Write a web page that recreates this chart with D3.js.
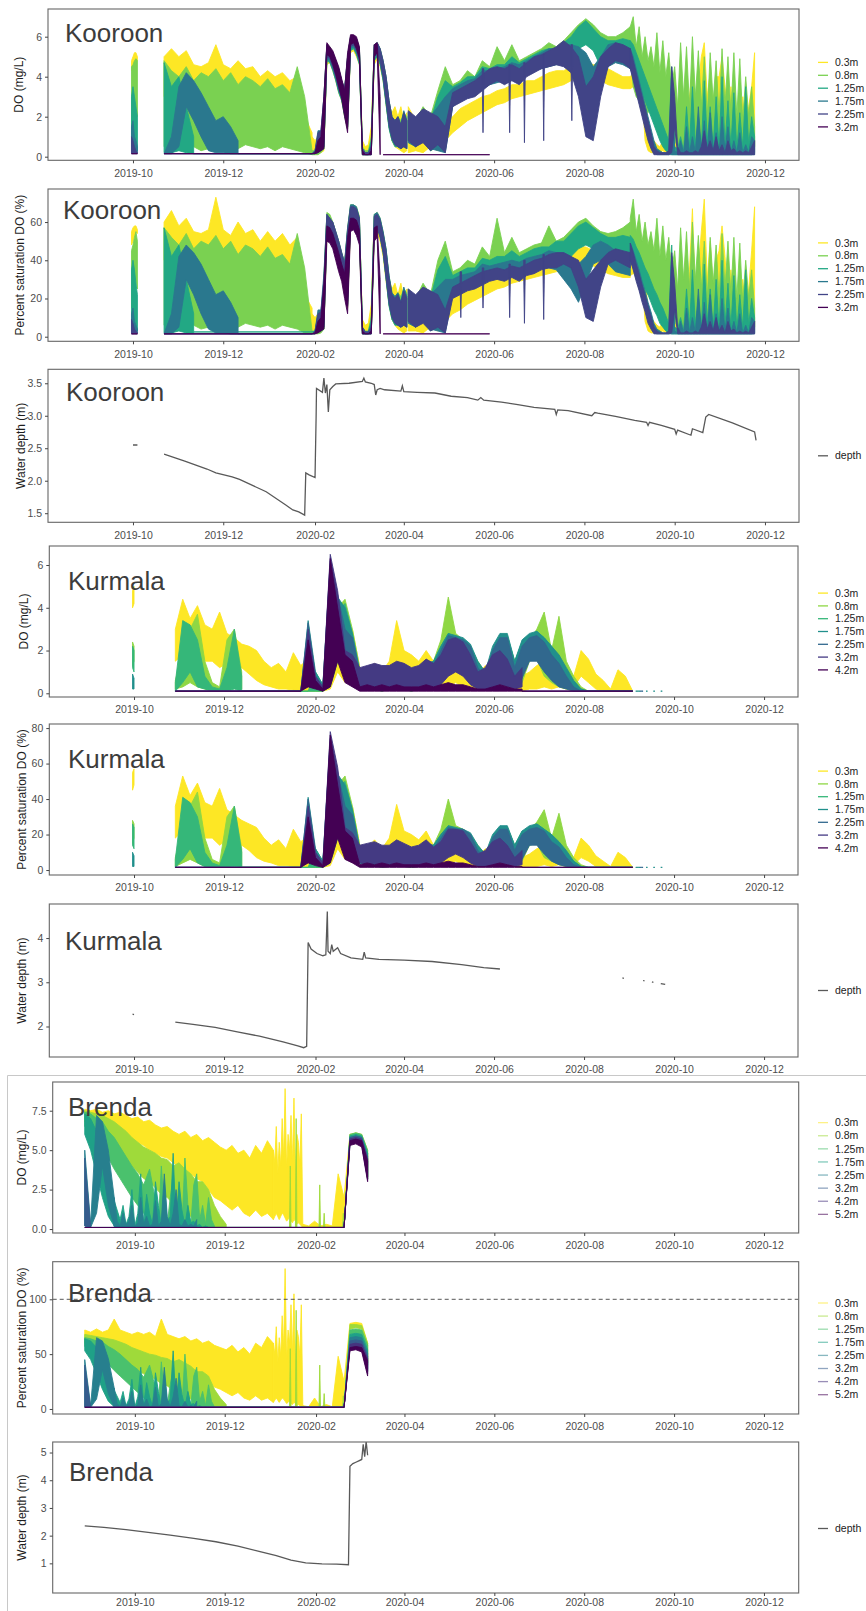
<!DOCTYPE html>
<html>
<head>
<meta charset="utf-8">
<style>
body { margin: 0; background: #fff; }
svg { display: block; font-family: "Liberation Sans", Arial, sans-serif; }
</style>
</head>
<body>
<svg width="866" height="1611"></svg>
<script src="https://d3js.org/d3.v7.min.js"></script>
<script>

// ---- data: each series is a list of segments [start date, step in days, daily low values, daily high values]
var xTickDates = ["2019-10-01","2019-12-01","2020-02-01","2020-04-01","2020-06-01","2020-08-01","2020-10-01","2020-12-01"];

var depths6 = ["0.3m","0.8m","1.25m","1.75m","2.25m","3.2m"];
var depths7 = ["0.3m","0.8m","1.25m","1.75m","2.25m","3.2m","4.2m"];
var depths8 = ["0.3m","0.8m","1.25m","1.75m","2.25m","3.2m","4.2m","5.2m"];

var viridis6 = ["#FDE725","#7AD151","#22A884","#2A788E","#414487","#440154"];
var viridis7 = ["#FDE725","#8FD744","#35B779","#21908C","#31688E","#443A83","#440154"];
var viridis8 = ["#FDE725","#9FDA3A","#4AC16D","#1FA187","#277F8E","#365C8D","#46337E","#440154"];

var yTicksKooroonDO = [0, 2, 4, 6];
var yTicksKooroonSat = [0, 20, 40, 60];
var yTicksKooroonDepth = [1.5, 2.0, 2.5, 3.0, 3.5];
var yTicksKurmalaDO = [0, 2, 4, 6];
var yTicksKurmalaSat = [0, 20, 40, 60, 80];
var yTicksKurmalaDepth = [2, 3, 4];
var yTicksBrendaDO = [0.0, 2.5, 5.0, 7.5];
var yTicksBrendaSat = [0, 50, 100];
var yTicksBrendaDepth = [1, 2, 3, 4, 5];

var kooroonDO = [
  [["2019-09-30",1,[4.3,4.5,4.6,4.8,4.8],[4.8,5.0,5.2,5.2,5.0]],
   ["2019-10-22",5,[3.0,3.2,3.0,3.3,2.8,3.0,3.2,3.5,3.0,3.2,2.8,3.0,2.6,2.8,2.5,2.8,2.6,2.2,1.8,0.3,0.2],
                   [5.0,5.4,5.0,5.3,4.6,4.5,4.7,5.6,4.6,4.4,4.8,4.4,4.5,4.0,4.3,4.0,4.2,3.8,4.0,2.0,1.2]],
   ["2020-01-30",2,[0.2,0.2,0.3,0.2,0.3,4.6,4.7,4.3,3.8,3.2,2.8,2.0,1.4,5.2,5.3,5.0,4.6,0.2,0.2,0.2,0.3,4.6,4.9,4.5,3.8,2.6,1.5,0.8,0.5,0.4,0.3,0.2,0.3],
                   [1.0,0.8,1.0,0.8,2.5,5.3,5.3,5.0,4.6,4.2,3.6,3.2,4.6,5.8,5.8,5.6,5.2,0.8,0.5,0.6,1.5,5.4,5.5,5.2,4.6,3.8,2.6,2.2,2.5,2.0,2.5,1.8,2.2]],
   ["2020-04-04",5,[0.2,0.3,0.2,0.5,0.3,0.8,1.2,1.5,1.8,2.0,2.2,2.4,2.6,2.7,2.9,3.0,3.1,3.2,3.3,3.4,3.5,3.6,3.8,4.0,4.0,4.0,3.8,3.6,3.5,3.4,3.4],
                   [2.5,1.8,2.2,1.5,1.2,1.8,2.0,2.4,2.6,2.8,3.0,3.1,3.3,3.4,3.6,3.6,3.8,3.8,4.0,4.2,4.3,4.3,4.5,4.8,4.8,4.6,4.6,4.4,4.2,4.0,4.0]],
   ["2020-09-01",2,[3.4,3.5,3.4,3.3,3.2,0.8,0.3,0.2,0.2,0.2,0.2,0.3,0.2,0.2,0.3,0.2,0.3,0.2,0.2,0.3,0.5,0.8,0.5,0.3,0.5,0.3,0.5,0.4,0.3,0.2,0.3,0.5,0.3,0.2,0.3,0.2,0.3,0.2,0.2,0.3,0.3,0.5,0.5],
                   [4.0,4.2,4.0,4.5,3.9,3.5,1.5,1.0,0.8,0.6,0.5,0.8,0.5,0.4,1.0,0.6,1.5,2.0,1.0,2.5,3.0,4.5,2.0,3.5,5.0,5.7,3.0,4.2,2.5,4.0,4.0,5.0,3.5,2.0,3.5,1.5,2.0,1.5,3.0,1.2,2.5,3.5,5.2]]],
  [["2019-09-30",1,[1.0,1.5,2.0,2.5,2.0],[4.5,4.6,4.8,4.9,4.8]],
   ["2019-10-22",5,[0.5,0.5,0.3,0.8,0.5,0.3,0.4,0.5,0.3,0.5,0.4,0.6,0.5,0.4,0.5,0.3,0.5,0.4,0.3,0.2,0.1],
                   [4.8,4.3,4.0,4.5,3.8,4.2,4.0,4.4,3.8,4.2,3.6,4.0,3.8,3.5,3.9,3.4,3.6,3.2,4.5,3.0,0.3]],
   ["2020-01-30",2,[0.1,0.1,0.1,0.2,0.4,4.9,4.8,4.4,3.9,3.3,2.9,2.1,1.5,5.4,5.5,5.2,4.7,0.1,0.1,0.1,0.2,4.8,5.1,4.7,3.9,2.7,1.5,0.8,0.6,0.6,0.5,0.8,0.5],
                   [0.3,0.3,0.8,0.8,2.8,5.6,5.5,5.2,4.8,4.4,3.8,3.4,5.0,6.0,6.0,5.9,5.4,0.5,0.3,0.3,1.0,5.6,5.7,5.4,4.8,4.0,2.8,2.0,1.8,2.0,1.8,2.2,2.0]],
   ["2020-04-04",5,[0.8,0.5,1.0,0.3,0.5,0.3,2.8,3.0,3.2,3.5,3.6,3.8,4.0,4.0,4.2,4.0,4.3,4.5,4.6,4.8,4.8,5.0,5.2,5.6,5.8,5.5,5.0,4.8,5.0,5.2,5.0],
                   [2.2,1.8,2.5,2.0,3.3,4.5,3.6,3.8,4.3,4.0,4.8,4.5,5.5,4.8,5.6,4.8,5.0,5.2,5.4,5.7,5.5,5.8,6.2,6.6,6.9,6.6,6.2,6.0,6.0,6.2,6.5]],
   ["2020-09-01",2,[5.0,3.5,3.0,2.8,2.5,2.4,2.2,2.5,2.0,1.8,1.5,1.2,1.0,0.8,0.6,0.8,0.5,0.7,0.4,0.6,0.5,0.8,0.6,1.0,0.5,0.8,0.4,0.7,0.5,0.6,0.4,0.8,0.5,0.6,0.3,0.5,0.4,0.6,0.3,0.5,0.3,0.4,0.5],
                   [6.5,7.0,5.5,6.5,5.0,6.0,4.8,5.5,4.5,6.2,4.2,5.8,4.0,5.2,3.5,4.5,2.5,5.7,3.0,5.5,2.5,6.0,3.0,5.3,2.5,5.0,2.0,5.2,2.8,4.8,2.0,5.4,2.5,5.0,2.2,5.2,2.0,4.9,1.8,4.0,2.0,3.5,1.5]]],
  [["2019-09-30",1,[0.3,0.5,0.8,0.5,0.3],[3.0,3.5,3.0,2.5,2.0]],
   ["2019-10-22",5,[0.2,0.2,0.3,0.2,0.15],[4.7,3.5,4.0,2.5,1.0]],
   ["2019-11-11",80,[0.15,0.15],[0.15,0.15]],
   ["2020-01-30",2,[0.15,0.15,0.2,0.3,0.4,4.8,4.7,4.3,3.8,3.2,2.8,2.0,1.4,5.3,5.4,5.1,4.6,0.1,0.1,0.1,0.1,4.8,5.0,4.6,3.8,2.6,1.4,0.8,0.5,0.5,0.4,0.6,0.4],
                   [0.15,0.3,1.0,1.2,2.6,5.5,5.4,5.1,4.7,4.3,3.7,3.3,4.8,5.9,5.9,5.8,5.3,0.4,0.2,0.2,0.8,5.5,5.6,5.3,4.7,3.9,2.7,1.9,1.7,1.8,1.6,2.2,1.8]],
   ["2020-04-04",5,[0.8,0.5,0.8,0.3,0.5,0.5,2.6,2.9,3.0,3.3,3.4,3.6,3.8,3.9,4.0,3.9,4.2,4.4,4.5,4.6,4.7,4.8,5.0,5.4,5.6,5.3,4.5,4.6,4.8,4.8,4.8],
                   [2.0,1.6,2.2,1.8,3.0,3.8,3.5,3.7,4.0,4.0,4.5,4.4,4.6,4.6,5.0,4.7,4.9,5.1,5.3,5.4,5.4,5.7,6.0,6.5,6.8,6.4,6.0,5.8,5.8,5.9,5.8]],
   ["2020-09-01",2,[4.8,4.5,4.0,3.6,3.2,2.8,2.4,2.0,1.6,1.2,0.8,0.5,0.3,0.2,0.1,0.1,0.1,0.1,0.1,0.1,0.1,0.1,0.1,0.1,0.1,0.1,0.1,0.1,0.1,0.1,0.1,0.1,0.1,0.1,0.1,0.1,0.1,0.1,0.1,0.1,0.1,0.1,0.2],
                   [5.8,5.6,5.2,4.8,4.4,4.0,3.6,3.2,2.8,2.4,2.0,1.6,1.2,0.8,4.5,0.5,0.4,1.0,0.3,2.5,0.5,3.5,0.6,2.0,0.4,3.8,0.8,2.5,0.5,3.0,0.4,4.0,0.6,2.8,0.5,3.2,0.4,2.2,0.5,3.5,0.6,2.0,1.0]]],
  [["2019-09-30",1,[0.2,0.2,0.3,0.3,0.2],[1.5,1.8,1.0,0.8,0.5]],
   ["2019-10-22",5,[0.15,0.15,0.5,2.5,1.8,1.0,0.3,0.2,0.2,0.15,0.15],[0.15,1.0,3.5,4.2,3.8,3.2,2.5,1.8,2.0,1.5,0.8]],
   ["2019-12-11",50,[0.15,0.15],[0.15,0.15]],
   ["2020-01-30",2,[0.15,0.15,0.3,0.3,0.5,4.9,4.8,4.4,3.9,3.3,2.9,2.1,1.5,5.4,5.5,5.2,4.7,0.1,0.1,0.1,0.1,4.9,5.1,4.7,3.9,2.7,1.5,0.9,0.6,0.5,0.4,0.5,0.4],
                   [0.15,0.3,1.3,1.3,3.0,5.6,5.4,5.2,4.8,4.4,3.8,3.4,5.0,6.0,6.0,5.9,5.4,0.4,0.2,0.2,0.6,5.6,5.7,5.4,4.8,4.0,2.8,2.0,1.8,2.0,1.6,2.3,1.8]],
   ["2020-04-04",5,[0.7,0.5,0.8,0.4,0.3,0.2,2.5,2.8,3.0,3.2,3.4,3.6,3.7,3.8,3.9,3.8,4.1,4.3,4.4,4.5,4.6,4.6,4.5,4.0,3.0,2.0,3.5,4.5,4.7,4.6,4.4],
                   [2.2,1.8,2.3,2.0,2.5,3.0,3.4,3.6,3.8,3.9,4.3,4.3,4.4,4.5,4.7,4.6,4.8,5.0,5.2,5.4,5.4,5.6,5.6,5.5,5.2,4.5,5.0,5.6,5.7,5.6,5.4]],
   ["2020-09-01",2,[4.4,4.0,3.4,2.8,2.2,1.6,1.0,0.5,0.2,0.1,0.1,0.1,0.1,0.1,0.1,0.1,0.1,0.1,0.1,0.1,0.1,0.1,0.1,0.1,0.1,0.1,0.1,0.1,0.1,0.1,0.1,0.1,0.1,0.1,0.1,0.1,0.1,0.1,0.1,0.1,0.1,0.1,0.1],
                   [5.4,5.0,4.4,3.8,3.2,2.6,2.0,1.4,0.8,0.4,0.3,0.2,0.2,0.2,4.3,0.3,0.2,0.8,0.2,1.5,0.2,1.0,0.2,2.5,0.3,1.8,0.2,2.2,0.3,1.2,0.2,2.0,0.3,1.5,0.2,0.8,0.2,1.2,0.2,0.6,0.2,1.0,0.8]]],
  [["2019-09-30",1,[0.15,0.15,0.15,0.15,0.15],[1.0,0.8,0.5,0.3,0.2]],
   ["2019-10-22",100,[0.15,0.15],[0.15,0.15]],
   ["2020-01-30",2,[0.15,0.15,0.3,0.4,0.5,5.0,4.9,4.5,4.0,3.4,3.0,2.2,1.5,5.5,5.6,5.3,4.8,0.1,0.1,0.1,0.1,5.0,5.2,4.8,4.0,2.8,1.6,0.9,0.6,0.5,0.4,0.5,0.4],
                   [0.15,0.3,1.2,1.3,3.0,5.6,5.4,5.2,4.8,4.4,3.8,3.4,5.0,6.0,6.0,5.9,5.4,0.4,0.2,0.2,0.5,5.6,5.7,5.4,4.8,4.0,2.8,2.0,1.8,2.0,1.6,2.2,1.8]],
   ["2020-04-04",5,[0.8,0.5,0.7,0.3,0.6,0.2,2.5,2.7,2.9,3.0,3.3,3.6,3.8,3.6,3.8,3.6,4.0,4.2,4.4,4.5,4.6,4.5,4.2,3.0,1.0,0.8,3.0,4.5,4.8,4.7,4.4],
                   [2.3,2.0,2.4,2.2,2.0,1.5,3.2,3.4,3.6,3.8,4.1,4.4,4.5,4.4,4.6,4.4,4.7,5.0,5.1,5.3,5.5,5.8,5.5,5.0,3.5,4.0,5.0,5.4,5.7,5.6,5.4]],
   ["2020-05-24",0.5,[3.6,1.2,3.6],[4.4,4.4,4.4]],
   ["2020-06-11",0.5,[3.8,1.2,3.8],[4.6,4.6,4.6]],
   ["2020-06-21",0.5,[4.0,0.7,4.0],[4.7,4.7,4.7]],
   ["2020-07-04",0.5,[4.4,0.8,4.4],[5.1,5.1,5.1]],
   ["2020-07-23",0.5,[4.5,1.8,4.5],[5.6,5.6,5.6]],
   ["2020-09-01",2,[4.4,3.8,3.2,2.6,2.0,1.4,0.8,0.4,0.1,0.1,0.1,0.1,0.1,0.1,0.2,1.5,0.1,0.1,0.1,0.1,0.1,0.1,0.1,0.1,0.1,0.1,0.1,0.1,0.1,0.1,0.1,0.1,0.1,0.1,0.1,0.1,0.1,0.1,0.1,0.1,0.1,0.1,0.1],
                   [5.4,4.8,4.2,3.6,3.0,2.4,1.8,1.2,0.5,0.3,0.2,0.2,0.2,0.3,4.5,3.0,0.5,0.2,0.2,0.3,0.2,0.2,0.3,0.2,0.5,1.3,0.4,0.8,0.3,1.0,0.3,0.6,0.2,0.8,0.3,0.4,0.2,0.3,0.2,0.3,0.2,0.5,0.8]]],
  [["2019-09-30",4,[0.15,0.15],[0.15,0.15]],
   ["2019-10-22",100,[0.15,0.15],[0.15,0.15]],
   ["2020-01-30",2,[0.15,0.15,0.2,0.3,0.4,5.1,5.0,4.6,4.1,3.5,2.9,2.0,1.2,5.6,5.7,5.4,4.9,0.1,0.1,0.1,0.1,5.0,5.2,0.1],
                   [0.15,0.2,0.8,1.0,3.0,5.7,5.5,5.3,4.9,4.5,3.9,3.3,5.2,6.1,6.1,6.0,5.5,0.3,0.1,0.1,0.3,5.6,5.7,3.0]],
   ["2020-03-18",72,[0.1,0.1],[0.1,0.1]]]
];

var kooroonSat = [
  [["2019-09-30",1,[48,50,52,55,54],[55,57,58,58,56]],
   ["2019-10-22",5,[40,42,40,44,38,40,42,46,40,42,37,40,35,37,34,37,35,30,25,3,2],
                   [60,66,58,62,55,54,56,73,56,53,60,54,56,50,55,50,54,48,52,22,15]],
   ["2020-01-30",2,[3,3,4,3,4,52,52,48,42,36,31,22,15,58,59,56,51,2,2,2,3,52,54,50,42,29,17,9,6,4,3,2,3],
                   [12,10,12,10,28,62,61,58,53,48,42,36,52,67,67,65,60,9,6,7,17,62,63,60,53,43,30,25,28,22,28,20,25]],
   ["2020-04-04",5,[3,3,2,5,3,8,12,14,17,19,21,23,25,26,28,29,30,31,32,33,34,35,36,38,38,37,35,33,32,31,31],
                   [25,18,22,15,12,17,20,23,25,27,29,30,32,33,35,35,37,37,39,41,42,42,44,47,47,45,45,43,41,39,39]],
   ["2020-09-01",2,[32,33,32,31,30,8,3,2,2,2,2,3,2,2,3,2,3,2,2,3,5,8,5,3,5,3,5,4,3,2,3,5,3,2,3,2,3,2,2,3,3,5,5],
                   [38,40,38,42,37,33,14,10,8,6,5,8,5,4,10,6,15,20,10,25,35,67,20,35,55,72,30,50,25,40,45,58,42,20,35,15,20,15,30,12,25,45,68]]],
  [["2019-09-30",1,[15,20,25,30,25],[45,48,52,55,50]],
   ["2019-10-22",5,[6,6,4,9,6,4,5,6,4,6,5,7,6,5,6,4,6,5,4,2,1.5],
                   [57,52,48,54,46,50,48,53,46,50,43,48,46,42,47,41,43,38,54,36,3]],
   ["2020-01-30",2,[1.5,1.5,1.5,2,4,56,55,51,45,38,33,24,17,61,62,59,54,1.5,1.5,1.5,2,55,58,53,45,31,17,9,7,7,6,9,6],
                   [3,3,9,9,30,65,64,60,55,50,44,39,57,69,69,68,63,5,3,3,11,64,65,62,55,46,32,23,21,23,21,25,23]],
   ["2020-04-04",5,[8,5,10,4,6,4,26,28,30,32,33,34,36,36,37,36,38,39,40,41,41,43,44,48,50,48,45,44,45,46,46],
                   [25,20,28,22,40,50,34,36,40,38,47,42,62,44,52,44,46,48,49,58,50,52,56,60,62,58,55,54,55,57,60]],
   ["2020-09-01",2,[46,35,30,28,25,24,22,25,20,18,15,12,10,8,6,8,5,7,4,6,5,8,6,10,5,8,4,7,5,6,4,8,5,6,3,5,4,6,3,5,3,4,5],
                   [62,72,55,64,50,60,48,55,45,62,42,58,40,52,35,45,25,57,30,55,25,60,30,53,25,50,20,52,28,48,20,54,25,50,22,52,20,49,18,40,20,35,15]]],
  [["2019-09-30",1,[3,5,8,5,3],[35,40,35,28,22]],
   ["2019-10-22",5,[2,2,3,2,2],[57,42,48,30,12]],
   ["2019-11-11",80,[2.5,2.5],[2.5,2.5]],
   ["2020-01-30",2,[2.5,2.5,2.5,3,4,55,54,50,44,37,32,23,16,60,61,58,53,1.5,1.5,1.5,1.5,55,57,52,44,30,16,9,6,6,5,7,5],
                   [2.5,3,11,13,28,63,62,59,54,49,43,38,55,68,68,67,61,5,2.5,2.5,9,63,64,61,54,45,31,22,20,21,18,25,21]],
   ["2020-04-04",5,[8,5,8,3,5,4,24,26,27,29,30,31,33,33,34,34,36,37,38,39,39,40,42,46,48,46,40,40,42,42,42],
                   [22,18,25,20,35,42,32,34,36,36,41,40,42,42,45,42,44,46,47,47,50,50,54,58,60,57,54,52,52,53,52]],
   ["2020-09-01",2,[44,41,36,33,29,25,22,18,14,11,7,5,3,2,1.5,1.5,1.5,1.5,1.5,1.5,1.5,1.5,1.5,1.5,1.5,1.5,1.5,1.5,1.5,1.5,1.5,1.5,1.5,1.5,1.5,1.5,1.5,1.5,1.5,1.5,1.5,1.5,2],
                   [53,51,47,44,40,36,33,29,25,22,18,15,11,7,48,5,4,10,3,25,5,35,6,20,4,38,8,25,5,30,4,40,6,28,5,32,4,22,5,35,6,20,10]]],
  [["2019-09-30",1,[2,2,3,3,2],[12,15,8,6,4]],
   ["2019-10-22",5,[1.5,1.5,5,30,22,12,4,2,2,1.5,1.5],[1.5,12,42,48,44,38,30,22,24,18,10]],
   ["2019-12-11",50,[1.5,1.5],[1.5,1.5]],
   ["2020-01-30",2,[1.5,1.5,3,3,5,56,55,51,45,38,33,24,17,61,62,59,54,1.5,1.5,1.5,1.5,56,58,53,45,31,17,10,7,6,5,6,5],
                   [1.5,3,14,14,33,64,62,60,55,50,44,39,57,69,69,68,62,5,2.5,2.5,7,64,65,62,55,46,32,23,21,23,18,26,21]],
   ["2020-04-04",5,[7,5,8,4,3,2,22,25,26,28,29,30,32,32,33,33,34,35,36,36,35,30,25,18,28,38,40,38,34,33,32],
                   [25,20,25,22,26,30,30,32,33,34,38,37,38,39,40,39,41,42,43,45,44,44,42,38,42,48,50,48,45,44,44]],
   ["2020-09-01",2,[40,36,31,25,20,15,9,5,2,1.5,1.5,1.5,1.5,1.5,1.5,1.5,1.5,1.5,1.5,1.5,1.5,1.5,1.5,1.5,1.5,1.5,1.5,1.5,1.5,1.5,1.5,1.5,1.5,1.5,1.5,1.5,1.5,1.5,1.5,1.5,1.5,1.5,1.5],
                   [49,45,40,35,29,24,18,13,7,4,3,2,2,2,42,3,2,8,2,15,2,10,2,25,3,18,2,22,3,12,2,20,3,15,2,8,2,12,2,6,2,10,8]]],
  [["2019-09-30",1,[1.5,1.5,1.5,1.5,1.5],[9,7,4,3,2]],
   ["2019-10-22",100,[1.5,1.5],[1.5,1.5]],
   ["2020-01-30",2,[1.5,1.5,3,4,5,55,54,50,44,38,33,24,16,60,61,58,53,1.5,1.5,1.5,1.5,55,57,52,44,31,18,10,7,6,5,6,5],
                   [1.5,3,12,13,30,64,62,60,55,50,44,38,56,68,68,67,62,5,2.5,2.5,5,63,64,61,54,45,31,22,20,22,18,24,20]],
   ["2020-04-04",5,[8,5,7,3,5,2,20,22,24,25,27,29,30,29,31,29,32,33,35,36,36,38,36,26,10,8,26,38,40,38,36],
                   [25,22,26,24,22,14,26,28,30,32,34,35,36,35,37,36,38,40,41,43,44,44,42,40,30,35,40,44,46,45,44]],
   ["2020-05-09",0.5,[28,10,28],[34,34,34]],
   ["2020-05-24",0.5,[29,15,29],[36,36,36]],
   ["2020-06-11",0.5,[31,10,31],[38,38,38]],
   ["2020-06-21",0.5,[32,7,32],[40,40,40]],
   ["2020-07-04",0.5,[35,9,35],[43,43,43]],
   ["2020-09-01",2,[40,35,29,24,18,13,7,4,1.5,1.5,1.5,1.5,1.5,1.5,2,14,1.5,1.5,1.5,1.5,1.5,1.5,1.5,1.5,1.5,1.5,1.5,1.5,1.5,1.5,1.5,1.5,1.5,1.5,1.5,1.5,1.5,1.5,1.5,1.5,1.5,1.5,1.5],
                   [49,44,38,33,27,22,16,11,5,3,2,2,2,3,44,28,5,2,2,3,2,2,3,2,5,12,4,8,3,10,3,6,2,8,3,4,2,3,2,3,2,5,8]]],
  [["2019-09-30",4,[1.5,1.5],[1.5,1.5]],
   ["2019-10-22",100,[1.5,1.5],[1.5,1.5]],
   ["2020-01-30",2,[1.5,1.5,2,3,4,50,49,46,40,34,29,20,12,55,56,53,48,1.5,1.5,1.5,1.5,50,52,1.5],
                   [1.5,2,8,10,28,58,57,54,49,44,38,33,52,62,62,61,56,3,1.5,1.5,3,57,58,30]],
   ["2020-03-18",72,[1.5,1.5],[1.5,1.5]]]
];

var kooroonDepth = [
  ["2019-10-01",2.55],["2019-10-04",2.55],["2019-10-04",null],
  ["2019-10-22",2.41],["2019-11-05",2.30],["2019-11-20",2.18],["2019-11-26",2.12],["2019-12-07",2.06],
  ["2019-12-12",2.02],["2019-12-30",1.83],["2020-01-12",1.63],["2020-01-17",1.55],["2020-01-21",1.52],
  ["2020-01-25",1.47],["2020-01-25T18",2.12],["2020-01-28",2.09],["2020-02-01",2.05],["2020-02-01T18",3.00],
  ["2020-02-02",3.42],["2020-02-06",3.36],["2020-02-07",3.58],["2020-02-08",3.35],["2020-02-09",3.48],
  ["2020-02-10",3.06],["2020-02-11",3.40],["2020-02-13",3.45],["2020-02-15",3.49],["2020-02-24",3.50],
  ["2020-03-04",3.53],["2020-03-05",3.58],["2020-03-06",3.52],["2020-03-10",3.50],["2020-03-12",3.48],
  ["2020-03-13",3.32],["2020-03-14",3.40],["2020-03-16",3.42],["2020-03-19",3.40],["2020-03-30",3.38],
  ["2020-03-31",3.46],["2020-04-01",3.37],["2020-04-10",3.36],["2020-04-22",3.35],["2020-05-03",3.30],
  ["2020-05-14",3.28],["2020-05-21",3.24],["2020-05-23",3.28],["2020-05-25",3.24],["2020-06-06",3.21],
  ["2020-06-17",3.17],["2020-06-28",3.13],["2020-07-12",3.10],["2020-07-13",3.02],["2020-07-14",3.09],
  ["2020-07-21",3.08],["2020-08-06",3.00],["2020-08-08",3.05],["2020-08-10",3.04],["2020-08-22",2.99],
  ["2020-09-04",2.93],["2020-09-12",2.90],["2020-09-13",2.85],["2020-09-14",2.90],["2020-09-22",2.85],
  ["2020-10-01",2.79],["2020-10-02",2.72],["2020-10-03",2.78],["2020-10-12",2.70],["2020-10-13",2.80],
  ["2020-10-20",2.74],["2020-10-22",2.98],["2020-10-24",3.02],["2020-11-09",2.89],["2020-11-24",2.75],
  ["2020-11-25",2.62]
];

var kurmalaDO = [
  [["2019-09-30",1,[4.0,4.2],[4.8,5.0]],
   ["2019-10-29",5,
    [1.5,1.8,1.5,1.8,1.5,1.5,1.2,1.4,1.0,1.2,0.9,0.6,0.4,0.3,0.2,0.2,0.15,0.15,0.1,0.1,0.1,0.2,1.0,0.5,0.8,0.3,0.2,0.3,0.2,0.3,0.5,0.3,0.2,0.2,0.2,0.3,0.2,0.3,0.5,0.3,0.2,0.2,0.2,0.2,0.3,0.2,0.2,0.1,0.2,0.2,0.3,0.2,0.3,0.2,0.3,0.8,0.5,0.2,0.1,0.1,0.1,0.1,0.1],
    [3.0,4.4,3.5,4.1,3.2,3.0,3.8,2.8,2.6,2.3,2.2,2.0,1.5,1.2,1.4,1.0,1.9,1.3,1.6,0.5,0.3,4.8,3.5,2.5,3.0,1.2,1.0,1.4,1.0,1.5,3.4,2.0,1.8,1.5,2.0,1.5,1.2,1.0,1.8,1.4,1.2,0.8,1.3,1.0,1.5,1.2,1.6,0.8,1.0,1.3,1.5,1.2,1.6,1.0,0.8,2.0,1.6,0.9,0.6,0.2,1.1,0.8,0.1]]],
  [["2019-09-30",1,[1.3,1.5],[2.4,2.2]],
   ["2019-10-29",5,[0.2,0.3,0.5,0.3,0.2,0.1,0.1,0.2,0.3,0.2],[0.6,2.0,3.0,3.7,1.5,0.5,0.3,2.5,3.0,1.0]],
   ["2019-12-13",45,[0.1,0.1],[0.1,0.1]],
   ["2020-01-27",5,
    [0.1,0.1,0.1,0.5,1.5,1.0,0.8,0.3,0.2,0.2,0.1,0.2,0.2,0.2,0.1,0.2,0.2,0.3,0.5,1.0,1.2,1.0,0.5,0.3,0.2,0.5,1.2,1.0,0.3,0.5,1.5,1.6,0.8,0.5,0.3,0.2,0.1,0.1,0.1,0.1,0.1,0.1,0.1,0.1,0.1],
    [0.1,0.6,0.3,5.0,4.0,4.4,3.0,1.2,0.8,1.0,0.6,0.9,1.0,1.0,0.8,1.0,1.2,1.5,2.5,4.5,2.8,2.5,2.2,1.5,1.0,2.0,2.5,2.6,1.5,2.2,2.5,3.0,3.8,2.0,3.6,1.5,0.8,0.3,0.1,0.1,0.1,0.1,0.1,0.1,0.1]]],
  [["2019-09-30",1,[1.2,1.0],[2.2,2.0]],
   ["2019-10-29",5,[0.1,0.5,1.0,0.3,0.2,0.1,0.1,0.1,0.2,0.1],[0.5,3.4,3.2,2.5,0.8,0.3,0.2,1.2,3.0,0.8]],
   ["2019-12-13",45,[0.1,0.1],[0.1,0.1]],
   ["2020-01-27",5,
    [0.1,0.1,0.1,0.3,1.5,1.0,0.8,0.3,0.2,0.2,0.1,0.2,0.2,0.2,0.1,0.2,0.2,0.3,0.5,1.2,1.4,1.2,0.8,0.3,0.2,0.6,1.5,1.3,0.5,0.8,1.6,1.7,1.2,0.8,0.5,0.3,0.1,0.1,0.1,0.1,0.1,0.1,0.1,0.1,0.1],
    [0.1,1.0,0.4,4.5,3.8,4.2,2.8,1.0,0.9,1.0,0.8,1.0,1.0,1.1,0.8,1.0,1.0,1.5,2.2,2.8,2.6,2.5,2.2,1.4,0.8,2.0,2.6,2.7,1.5,2.4,2.6,2.9,2.6,2.2,1.6,1.0,0.5,0.2,0.1,0.1,0.1,0.1,0.1,0.1,0.1]]],
  [["2019-09-30",1,[0.2,0.2],[0.9,0.7]],
   ["2019-10-29",85,[0.1,0.1],[0.1,0.1]],
   ["2020-01-22",5,
    [0.1,0.5,0.3,0.1,0.5,1.8,1.0,0.8,0.3,0.3,0.2,0.2,0.3,0.2,0.2,0.2,0.3,0.2,0.3,0.8,1.5,1.6,1.4,1.0,0.4,0.2,0.8,1.6,1.5,0.5,1.0,1.8,1.8,1.3,0.9,0.6,0.3,0.1,0.1,0.1,0.1,0.1,0.1,0.1,0.1,0.1],
    [0.1,3.4,1.0,0.4,6.0,4.5,4.0,2.8,1.0,1.2,1.2,1.0,1.2,1.2,1.0,1.0,1.2,1.4,1.5,2.2,2.8,2.7,2.6,2.3,1.5,1.0,2.2,2.8,2.8,1.5,2.5,2.8,2.9,2.6,2.2,1.8,1.2,0.6,0.2,0.1,0.1,0.1,0.1,0.1,0.1,0.1]],
   ["2020-09-05",1,[0.1,0.1,0.1,0.1],[0.1,0.1,0.1,0.1]],
   ["2020-09-12",1,[0.1,0.1],[0.1,0.1]],
   ["2020-09-17",1,[0.1,0.1],[0.1,0.1]],
   ["2020-09-22",1,[0.1,0.1],[0.1,0.1]]],
  [["2019-10-29",85,[0.1,0.1],[0.1,0.1]],
   ["2020-01-22",5,
    [0.1,0.5,0.3,0.1,0.5,1.8,1.0,0.6,0.3,0.2,0.3,0.2,0.3,0.2,0.2,0.2,0.3,0.2,0.2,0.6,1.2,1.3,1.1,0.8,0.3,0.2,0.6,1.3,1.2,0.3,0.7,1.5,1.5,1.0,0.6,0.3,0.2,0.1,0.1,0.1,0.1,0.1,0.1,0.1,0.1,0.1],
    [0.1,3.3,0.8,0.3,6.2,4.6,3.0,2.6,1.0,1.2,1.3,1.0,1.2,1.2,1.2,1.0,1.2,1.4,1.3,2.0,2.7,2.6,2.5,2.2,1.2,0.8,2.0,2.6,2.6,1.2,2.2,2.6,2.7,2.4,1.8,1.4,0.8,0.3,0.1,0.1,0.1,0.1,0.1,0.1,0.1,0.1]],
   ["2020-09-08",1,[0.1,0.1,0.1],[0.1,0.1,0.1]]],
  [["2019-10-29",85,[0.1,0.1],[0.1,0.1]],
   ["2020-01-22",5,
    [0.1,0.4,0.3,0.1,0.5,2.0,0.8,0.4,0.3,0.3,0.3,0.2,0.3,0.3,0.2,0.2,0.2,0.2,0.2,0.4,0.8,1.0,0.8,0.4,0.2,0.2,0.2,0.4,0.3,0.2,0.3],
    [0.1,3.0,0.8,0.3,6.5,4.8,2.0,1.8,1.2,1.3,1.4,1.3,1.3,1.5,1.4,1.2,1.3,1.6,1.4,1.8,2.5,2.6,2.4,1.8,1.0,1.2,1.8,2.0,1.6,0.8,1.2]],
   ["2020-06-20",75,[0.1,0.1],[0.1,0.1]]],
  [["2019-10-29",85,[0.1,0.1],[0.1,0.1]],
   ["2020-01-22",5,
    [0.1,0.3,0.2,0.1,0.3,1.5,0.5,0.3,0.1,0.1,0.1,0.1,0.1,0.1,0.1,0.1,0.1,0.1,0.1,0.1,0.1,0.1,0.1,0.1,0.1,0.1,0.1,0.1,0.1,0.1,0.1],
    [0.1,2.5,0.6,0.2,6.3,4.0,1.8,1.5,0.3,0.4,0.3,0.4,0.3,0.4,0.3,0.3,0.3,0.4,0.3,0.4,0.5,0.4,0.4,0.3,0.2,0.2,0.3,0.4,0.3,0.2,0.2]],
   ["2020-06-20",75,[0.1,0.1],[0.1,0.1]]]
];

var kurmalaSat = [
  [["2019-09-30",1,[45,48],[55,57]],
   ["2019-10-29",5,
    [18,22,18,22,18,18,14,17,12,14,11,7,5,4,2.5,2.5,2,2,1.5,1.5,1.5,2.5,12,6,10,4,2.5,3.5,2.5,3.5,5.5,3.5,2.5,2.5,2.5,3,2,3,5,3,2,2,2,2,3,2,2,1.5,2,2,3,2,3,2,3,7,5,2,1.5,1.5,1.5,1.5,1.5],
    [36,53,42,49,38,36,46,34,31,28,26,24,18,14,17,12,23,16,19,6,4,58,42,30,36,14,12,17,12,18,37,22,20,17,22,14,11,9,16,13,11,7,12,9,14,11,14,7,9,12,14,11,14,9,7,18,14,8,5,2,10,7,1.5]]],
  [["2019-09-30",1,[15,18],[28,26]],
   ["2019-10-29",5,[2,4,6,4,2,1.5,1.5,2,4,2],[7,24,36,44,18,6,4,30,36,12]],
   ["2019-12-13",45,[1.5,1.5],[1.5,1.5]],
   ["2020-01-27",5,
    [1.5,1.5,1.5,6,18,12,10,4,2.5,2.5,1.5,2,2,2,1.5,2,2,3,5,9,11,9,5,3,2,5,11,9,3,5,14,15,7,5,3,2,1.5,1.5,1.5,1.5,1.5,1.5,1.5,1.5,1.5],
    [1.5,7,4,60,48,53,36,14,10,12,7,10,11,11,9,11,13,14,23,40,25,23,20,14,9,18,23,24,14,20,23,27,34,18,32,14,7,3,1.5,1.5,1.5,1.5,1.5,1.5,1.5]]],
  [["2019-09-30",1,[14,12],[26,24]],
   ["2019-10-29",5,[1.5,6,12,4,2,1.5,1.5,1.5,2,1.5],[6,41,38,30,10,4,2.5,14,36,10]],
   ["2019-12-13",45,[1.5,1.5],[1.5,1.5]],
   ["2020-01-27",5,
    [1.5,1.5,1.5,4,18,12,10,4,2.5,2.5,1.5,2,2,2,1.5,2,2,3,5,11,13,11,7,3,2,5,14,12,5,7,14,15,11,7,5,3,1.5,1.5,1.5,1.5,1.5,1.5,1.5,1.5,1.5],
    [1.5,12,5,54,46,50,34,12,10,11,9,11,11,12,9,11,11,14,20,25,23,23,20,13,7,18,23,24,14,22,23,26,23,20,14,9,5,2,1.5,1.5,1.5,1.5,1.5,1.5,1.5]]],
  [["2019-09-30",1,[2,2],[10,8]],
   ["2019-10-29",85,[1.5,1.5],[1.5,1.5]],
   ["2020-01-22",5,
    [1.5,6,4,1.5,6,22,12,10,4,4,2.5,2.5,3.5,2.5,2.5,2.5,3.5,2.5,3,7,14,14,13,9,4,2,7,14,14,5,9,16,16,12,8,5,3,1.5,1.5,1.5,1.5,1.5,1.5,1.5,1.5,1.5],
    [1.5,41,12,5,72,54,48,34,12,14,13,11,13,13,11,11,13,15,14,20,25,24,23,21,14,9,20,25,25,14,22,25,26,23,20,16,11,5,2,1.5,1.5,1.5,1.5,1.5,1.5,1.5]],
   ["2020-09-05",1,[1.5,1.5,1.5,1.5],[1.5,1.5,1.5,1.5]],
   ["2020-09-12",1,[1.5,1.5],[1.5,1.5]],
   ["2020-09-17",1,[1.5,1.5],[1.5,1.5]],
   ["2020-09-22",1,[1.5,1.5],[1.5,1.5]]],
  [["2019-10-29",85,[1.5,1.5],[1.5,1.5]],
   ["2020-01-22",5,
    [1.5,6,4,1.5,6,22,12,7,4,2.5,3.5,2.5,3.5,2.5,2.5,2.5,3.5,2.5,2,5,11,12,10,7,3,2,5,12,11,3,6,14,14,9,5,3,2,1.5,1.5,1.5,1.5,1.5,1.5,1.5,1.5,1.5],
    [1.5,40,10,4,74,55,36,31,12,14,14,11,13,13,13,11,13,15,12,18,24,23,23,20,11,7,18,23,23,11,20,23,24,22,16,13,7,3,1.5,1.5,1.5,1.5,1.5,1.5,1.5,1.5]],
   ["2020-09-08",1,[1.5,1.5,1.5],[1.5,1.5,1.5]]],
  [["2019-10-29",85,[1.5,1.5],[1.5,1.5]],
   ["2020-01-22",5,
    [1.5,5,4,1.5,6,24,10,5,4,4,3.5,2.5,3.5,3.5,2.5,2.5,2.5,2.5,2,4,7,9,7,4,2,2,2,4,3,2,3],
    [1.5,36,10,4,78,58,24,21,14,15,16,14,14,17,15,13,14,17,13,16,23,23,22,16,9,11,16,18,14,7,11]],
   ["2020-06-20",75,[1.5,1.5],[1.5,1.5]]],
  [["2019-10-29",85,[1.5,1.5],[1.5,1.5]],
   ["2020-01-22",5,
    [1.5,4,2.5,1.5,4,18,6,4,1.5,1.5,1.5,1.5,1.5,1.5,1.5,1.5,1.5,1.5,1.5,1.5,1.5,1.5,1.5,1.5,1.5,1.5,1.5,1.5,1.5,1.5,1.5],
    [1.5,30,7,2.5,76,48,22,18,3,4,3,4,3,4,3,3,3,4,3,4,5,4,4,3,2,2,3,4,3,2,2]],
   ["2020-06-20",75,[1.5,1.5],[1.5,1.5]]]
];

var kurmalaDepth = [
  ["2019-09-30",2.28],["2019-10-01",2.27],["2019-10-01",null],
  ["2019-10-29",2.10],["2019-11-10",2.05],["2019-11-25",1.98],["2019-12-10",1.88],["2019-12-25",1.78],
  ["2020-01-10",1.65],["2020-01-20",1.56],["2020-01-24",1.52],["2020-01-26",1.55],["2020-01-27",3.90],
  ["2020-01-29",3.75],["2020-02-02",3.65],["2020-02-06",3.60],["2020-02-08",3.62],["2020-02-09",4.60],
  ["2020-02-09T12",3.70],["2020-02-11",3.65],["2020-02-12",3.85],["2020-02-13",3.70],["2020-02-16",3.78],
  ["2020-02-18",3.65],["2020-02-25",3.55],["2020-03-04",3.52],["2020-03-05",3.68],["2020-03-06",3.55],
  ["2020-03-15",3.52],["2020-04-01",3.50],["2020-04-20",3.47],["2020-05-10",3.40],["2020-05-25",3.33],
  ["2020-06-05",3.30],["2020-06-05",null],
  ["2020-08-27",3.10],["2020-08-28",3.09],["2020-08-28",null],
  ["2020-09-10",3.04],["2020-09-11",3.03],["2020-09-11",null],
  ["2020-09-16",3.01],["2020-09-17",3.00],["2020-09-17",null],
  ["2020-09-22",2.97],["2020-09-25",2.95]
];

var brendaDO = [
  [["2019-08-28",4,
    [6.8,6.5,6.8,6.5,6.2,6.0,6.2,5.8,5.6,5.5,5.3,5.0,4.8,4.6,4.5,4.2,4.0,3.8,3.5,3.2,3.0,2.5,2.0,1.8,1.5,1.2,1.5,1.0,0.8,1.2,0.8,1.0,0.6],
    [7.6,7.5,7.6,7.4,7.5,7.3,7.4,7.2,7.0,7.1,6.8,6.9,6.6,6.4,6.5,6.2,6.0,6.2,5.8,6.0,5.6,5.8,5.5,5.2,5.0,5.3,4.8,5.0,4.5,5.3,4.8,5.6,5.0]],
   ["2020-01-03",1,[0.6,0.8,1.0,0.8,0.6,0.8,1.0,0.9,0.7,0.5,0.6,0.8,0.5,0.4,0.6,0.5,0.3,0.4,0.3,0.2,0.1],
                   [5.0,4.2,6.5,3.5,5.5,4.0,7.0,4.5,8.9,3.8,6.0,5.0,7.2,4.2,8.3,3.5,6.0,5.5,4.0,7.3,0.3]],
   ["2020-01-23",4,[0.1,0.1,0.1,0.1,0.1,0.1,0.1,0.1,5.6,5.7,5.6,3.3],[0.3,0.2,0.5,0.2,0.3,0.2,3.5,2.0,6.0,6.1,6.0,5.0]]],
  [["2019-08-28",4,
    [6.8,6.6,6.5,6.0,5.5,5.2,4.8,4.5,4.0,3.6,3.2,3.0,2.6,2.2,2.0,1.6,1.3,1.0,0.8,0.5,0.3,0.2,0.1,0.1,0.1],
    [7.5,7.4,7.3,7.2,7.0,6.8,6.5,6.2,5.8,5.5,5.2,5.0,4.8,4.5,4.4,4.0,4.2,3.8,3.5,3.0,3.0,2.5,1.5,0.8,0.3]],
   ["2019-12-02",80,[0.1,0.1],[0.1,0.1]],
   ["2020-01-14",0.5,[0.1,0.1,0.1],[0.1,4.0,0.1]],
   ["2020-01-18",0.5,[0.1,0.1,0.1],[0.1,7.0,0.1]],
   ["2020-02-03",0.5,[0.1,0.1,0.1],[0.1,2.8,0.1]],
   ["2020-02-06",0.5,[0.1,0.1,0.1],[0.1,1.0,0.1]],
   ["2020-02-19",0.5,[0.1,0.1,0.1],[0.1,1.0,0.1]],
   ["2020-02-20",4,[0.1,5.6,5.7,5.6,3.2],[0.1,6.0,6.0,5.9,4.8]]],
  [["2019-08-28",4,
    [6.5,6.2,5.5,5.0,4.5,3.8,3.2,2.6,2.0,1.5,1.0,0.5,0.2],
    [7.4,7.3,7.0,6.8,6.2,5.8,5.2,4.6,4.0,3.5,2.8,3.8,1.8]],
   ["2019-10-15",2,[0.1,0.1,0.1,0.1,0.1,0.1,0.1,0.1,0.1,0.1,0.1,0.1,0.1,0.1,0.1,0.1,0.1,0.1,0.1,0.1,0.1],
                   [1.8,0.4,4.0,1.2,0.3,2.0,3.2,0.5,1.2,0.2,4.5,1.5,0.3,2.8,3.5,0.6,1.5,0.3,2.0,0.6,0.2]],
   ["2019-11-24",88,[0.1,0.1],[0.1,0.1]],
   ["2020-02-20",4,[0.1,5.7,5.8,5.6,3.4],[0.1,6.0,6.1,6.0,5.0]]],
  [["2019-08-28",4,[6.0,5.0,3.5,2.0,0.8,0.2,0.1],[7.3,7.0,6.2,5.0,3.5,1.8,0.6]],
   ["2019-09-21",2,[0.1,0.1,0.1,0.1,0.1,0.1,0.1,0.1,0.1,0.1,0.1,0.1,0.1,0.1,0.1,0.1,0.1,0.1,0.1,0.1,0.1,0.1,0.1,0.1,0.1,0.1,0.1,0.1,0.1,0.1,0.1],
                   [0.6,1.5,0.3,0.8,2.5,0.2,1.0,3.5,0.4,2.2,1.0,0.3,3.0,1.5,0.2,2.8,0.5,0.8,4.8,0.3,3.0,1.2,0.2,1.5,0.4,0.5,0.2,0.3,0.1,0.2,0.1]],
   ["2019-11-20",92,[0.1,0.1],[0.1,0.1]],
   ["2020-02-20",4,[0.1,5.6,5.7,5.5,3.3],[0.1,5.9,6.0,5.9,4.8]]],
  [["2019-08-28",4,[0.2,0.1,1.0,4.0,1.5,0.2],[5.0,0.3,7.2,6.8,5.0,2.0]],
   ["2019-09-17",2,[0.1,0.1,0.1,0.1,0.1,0.1,0.1,0.1,0.1,0.1,0.1,0.1,0.1,0.1,0.1,0.1,0.1,0.1,0.1,0.1,0.1,0.1,0.1,0.1,0.1,0.1,0.1,0.1,0.1],
                   [2.0,0.5,0.2,1.0,0.3,0.5,1.5,0.2,0.4,2.0,0.3,0.8,0.2,0.3,1.8,0.2,0.5,3.5,0.8,0.2,1.0,2.5,0.3,0.2,0.6,0.2,0.3,0.2,0.6]],
   ["2019-11-12",100,[0.1,0.1],[0.1,0.1]],
   ["2020-02-20",4,[0.1,5.5,5.6,5.4,3.2],[0.1,5.8,5.9,5.8,4.6]]],
  [["2019-08-28",4,[0.2,0.1],[4.5,0.1]],
   ["2019-09-01",172,[0.1,0.1],[0.1,0.1]],
   ["2020-02-20",4,[0.1,5.5,5.6,5.4,3.2],[0.1,5.8,5.9,5.8,4.5]]],
  [["2019-08-28",176,[0.1,0.1],[0.1,0.1]],
   ["2020-02-20",4,[0.1,5.4,5.5,5.3,3.1],[0.1,5.7,5.8,5.7,4.4]]],
  [["2019-08-28",176,[0.1,0.1],[0.1,0.1]],
   ["2020-02-20",4,[0.1,5.3,5.4,5.2,3.0],[0.1,5.6,5.7,5.6,4.3]]]
];

var brendaSat = [
  [["2019-08-28",4,
    [60,58,60,58,56,55,57,54,52,52,50,48,47,45,45,42,40,38,35,32,30,25,20,18,15,12,15,10,8,12,8,10,6],
    [72,70,73,70,72,82,72,70,68,70,68,70,66,82,68,66,64,66,62,64,60,62,58,56,54,58,52,56,50,60,56,66,60]],
   ["2020-01-03",1,[6,8,10,8,6,8,10,9,7,5,6,8,5,4,6,5,3,4,3,2,1.5],
                   [60,50,75,42,65,48,85,55,128,45,72,60,95,50,105,42,72,66,48,95,3]],
   ["2020-01-23",4,[1.5,1.5,1.5,1.5,1.5,1.5,1.5,1.5,74,75,74,44],[3,2,10,2,4,2,48,25,78,79,78,60]]],
  [["2019-08-28",4,
    [60,58,57,53,50,47,44,41,38,35,32,30,27,23,21,17,14,11,9,6,4,2.5,1.5,1.5,1.5],
    [68,67,66,65,64,63,61,59,56,54,52,50,49,47,46,43,45,42,39,34,34,30,18,10,4]],
   ["2019-12-02",80,[1.5,1.5],[1.5,1.5]],
   ["2020-01-14",0.5,[1.5,1.5,1.5],[1.5,55,1.5]],
   ["2020-01-18",0.5,[1.5,1.5,1.5],[1.5,90,1.5]],
   ["2020-02-03",0.5,[1.5,1.5,1.5],[1.5,40,1.5]],
   ["2020-02-06",0.5,[1.5,1.5,1.5],[1.5,14,1.5]],
   ["2020-02-19",0.5,[1.5,1.5,1.5],[1.5,12,1.5]],
   ["2020-02-20",4,[1.5,73,74,73,42],[1.5,77,77,76,60]]],
  [["2019-08-28",4,
    [57,54,49,45,41,35,30,25,20,15,10,5,2],
    [65,64,62,61,57,54,50,45,40,36,29,40,19]],
   ["2019-10-15",2,[1.5,1.5,1.5,1.5,1.5,1.5,1.5,1.5,1.5,1.5,1.5,1.5,1.5,1.5,1.5,1.5,1.5,1.5,1.5,1.5,1.5],
                   [20,5,43,13,3,22,35,6,13,2,50,16,3,30,38,7,16,3,22,7,2]],
   ["2019-11-24",88,[1.5,1.5],[1.5,1.5]],
   ["2020-02-20",4,[1.5,68,69,67,40],[1.5,72,73,72,58]]],
  [["2019-08-28",4,[53,45,32,18,7,2,1.5],[64,62,56,46,33,17,6]],
   ["2019-09-21",2,[1.5,1.5,1.5,1.5,1.5,1.5,1.5,1.5,1.5,1.5,1.5,1.5,1.5,1.5,1.5,1.5,1.5,1.5,1.5,1.5,1.5,1.5,1.5,1.5,1.5,1.5,1.5,1.5,1.5,1.5,1.5],
                   [6,16,3,9,27,2,11,38,4,24,11,3,33,16,2,31,5,9,53,3,33,13,2,16,4,5,2,3,1.5,2,1.5]],
   ["2019-11-20",92,[1.5,1.5],[1.5,1.5]],
   ["2020-02-20",4,[1.5,64,65,63,37],[1.5,68,69,68,54]]],
  [["2019-08-28",4,[2,1.5,9,36,14,2],[45,3,65,62,46,19]],
   ["2019-09-17",2,[1.5,1.5,1.5,1.5,1.5,1.5,1.5,1.5,1.5,1.5,1.5,1.5,1.5,1.5,1.5,1.5,1.5,1.5,1.5,1.5,1.5,1.5,1.5,1.5,1.5,1.5,1.5,1.5,1.5],
                   [19,5,2,10,3,5,16,2,4,22,3,9,2,3,20,2,5,38,9,2,11,28,3,2,7,2,3,2,7]],
   ["2019-11-12",100,[1.5,1.5],[1.5,1.5]],
   ["2020-02-20",4,[1.5,61,62,60,35],[1.5,65,66,65,51]]],
  [["2019-08-28",4,[2,1.5],[40,1.5]],
   ["2019-09-01",172,[1.5,1.5],[1.5,1.5]],
   ["2020-02-20",4,[1.5,58,59,57,34],[1.5,62,63,62,48]]],
  [["2019-08-28",176,[1.5,1.5],[1.5,1.5]],
   ["2020-02-20",4,[1.5,55,56,54,32],[1.5,59,60,59,46]]],
  [["2019-08-28",176,[1.5,1.5],[1.5,1.5]],
   ["2020-02-20",4,[1.5,53,54,52,30],[1.5,56,57,56,44]]]
];

var brendaDepth = [
  ["2019-08-28",2.35],["2019-09-10",2.30],["2019-09-25",2.22],["2019-10-10",2.12],["2019-10-25",2.02],
  ["2019-11-10",1.90],["2019-11-25",1.78],["2019-12-10",1.62],["2019-12-25",1.42],["2020-01-05",1.28],
  ["2020-01-15",1.12],["2020-01-25",1.02],["2020-02-05",0.98],["2020-02-15",0.97],["2020-02-23",0.95],
  ["2020-02-24",4.50],["2020-02-26",4.60],["2020-02-28",4.65],["2020-03-01",4.70],["2020-03-03",4.75],
  ["2020-03-04",5.30],["2020-03-05",4.85],["2020-03-06",5.40],["2020-03-07",4.90]
];

// ---- drawing
var svg = d3.select("svg");
var parseDay = d3.timeParse("%Y-%m-%d");
var parseHour = d3.timeParse("%Y-%m-%dT%H");
function parseT(s) { return s.length > 10 ? parseHour(s) : parseDay(s); }

var xDomainA = ["2019-08-04T14", "2020-12-24T00"];
var xDomainB = ["2019-08-06T06", "2020-12-24T14"];

var panels = [
  {site:"Kooroon", series:kooroonDO, colors:viridis6, names:depths6, top:9, bottom:160.3, left:48, right:799, yDomain:[-0.18,7.385], yTicks:yTicksKooroonDO, fmt:"d", title:"DO (mg/L)", titleX:19, lx:65, ly:41.7, xd:xDomainA, lshift:10, lsp:12.9, la:1},
  {site:"Kooroon", series:kooroonSat, colors:viridis6, names:depths6, top:189, bottom:341.3, left:48, right:799, yDomain:[-2.4,77.3], yTicks:yTicksKooroonSat, fmt:"d", title:"Percent saturation DO (%)", titleX:20, lx:63, ly:219, xd:xDomainA, lshift:10, lsp:12.9, la:1},
  {site:"Kooroon", line:kooroonDepth, top:369.3, bottom:522.3, left:48, right:799, yDomain:[1.36,3.715], yTicks:yTicksKooroonDepth, fmt:".1f", title:"Water depth (m)", titleX:21, lx:66, ly:400.7, xd:xDomainA, lshift:10},
  {site:"Kurmala", series:kurmalaDO, colors:viridis7, names:depths7, top:546, bottom:697, left:49.3, right:798, yDomain:[-0.173,6.889], yTicks:yTicksKurmalaDO, fmt:"d", title:"DO (mg/L)", titleX:24, lx:68, ly:590, xd:xDomainA, lshift:10, lsp:12.8, la:1},
  {site:"Kurmala", series:kurmalaSat, colors:viridis7, names:depths7, top:724, bottom:875, left:49.3, right:798, yDomain:[-2.8,82.3], yTicks:yTicksKurmalaSat, fmt:"d", title:"Percent saturation DO (%)", titleX:22, lx:68, ly:768, xd:xDomainA, lshift:10, lsp:12.8, la:1},
  {site:"Kurmala", line:kurmalaDepth, top:904, bottom:1057, left:49.3, right:798, yDomain:[1.31,4.77], yTicks:yTicksKurmalaDepth, fmt:"d", title:"Water depth (m)", titleX:22, lx:65, ly:950, xd:xDomainA, lshift:10},
  {site:"Brenda", series:brendaDO, colors:viridis8, names:depths8, top:1082, bottom:1233, left:52.7, right:798.7, yDomain:[-0.25,9.32], yTicks:yTicksBrendaDO, fmt:".1f", title:"DO (mg/L)", titleX:22, lx:68, ly:1115.7, xd:xDomainB, lshift:11, lsp:13.1, la:0.55},
  {site:"Brenda", series:brendaSat, colors:viridis8, names:depths8, top:1261.7, bottom:1414, left:52.7, right:798.7, yDomain:[-4.6,134.3], yTicks:yTicksBrendaSat, fmt:"d", title:"Percent saturation DO (%)", titleX:22, lx:68, ly:1302, xd:xDomainB, lshift:11, lsp:13.1, la:0.55, refLine:100},
  {site:"Brenda", line:brendaDepth, top:1442, bottom:1593, left:52.7, right:798.7, yDomain:[-0.07,5.38], yTicks:yTicksBrendaDepth, fmt:"d", title:"Water depth (m)", titleX:22, lx:69, ly:1481, xd:xDomainB, lshift:11, xpad:3}
];

function segRows(seg) {
  var t0 = parseDay(seg[0]), n = Math.min(seg[2].length, seg[3].length);
  return d3.range(n).map(function(i) {
    return {t: d3.timeHour.offset(t0, Math.round(i * seg[1] * 24)), lo: seg[2][i], hi: seg[3][i]};
  });
}

// separator of the Brenda block
svg.append("line").attr("x1", 7.5).attr("x2", 866).attr("y1", 1075.5).attr("y2", 1075.5).attr("stroke", "#c8c8c8");
svg.append("line").attr("x1", 7.5).attr("x2", 7.5).attr("y1", 1075.5).attr("y2", 1611).attr("stroke", "#c8c8c8");

panels.forEach(function(p, pi) {
  var x = d3.scaleTime().domain(p.xd.map(parseT)).range([p.left, p.right]);
  var y = d3.scaleLinear().domain(p.yDomain).range([p.bottom, p.top]);
  var g = svg.append("g");

  g.append("clipPath").attr("id", "clip" + pi).append("rect")
    .attr("x", p.left).attr("y", p.top).attr("width", p.right - p.left).attr("height", p.bottom - p.top);
  var plot = g.append("g").attr("clip-path", "url(#clip" + pi + ")");

  if (p.series) {
    var area = d3.area().x(function(d) { return x(d.t); })
      .y0(function(d) { return y(d.lo); }).y1(function(d) { return y(d.hi); });
    p.series.forEach(function(segs, si) {
      segs.forEach(function(seg) {
        plot.append("path").datum(segRows(seg))
          .attr("d", area)
          .attr("fill", p.colors[si])
          .attr("stroke", p.colors[si])
          .attr("stroke-width", 0.9)
          .attr("stroke-linejoin", "round");
      });
    });
  }
  if (p.line) {
    var line = d3.line().defined(function(d) { return d[1] != null; })
      .x(function(d) { return x(parseT(d[0])); }).y(function(d) { return y(d[1]); });
    plot.append("path").datum(p.line).attr("d", line)
      .attr("fill", "none").attr("stroke", "#595959").attr("stroke-width", 1.3);
  }
  if (p.refLine != null) {
    plot.append("line").attr("x1", p.left).attr("x2", p.right)
      .attr("y1", y(p.refLine)).attr("y2", y(p.refLine))
      .attr("stroke", "#444").attr("stroke-width", 0.9).attr("stroke-dasharray", "4,3");
  }

  g.append("rect").attr("x", p.left).attr("y", p.top)
    .attr("width", p.right - p.left).attr("height", p.bottom - p.top)
    .attr("fill", "none").attr("stroke", "#666").attr("stroke-width", 1.1);

  var xa = g.append("g").attr("transform", "translate(0," + p.bottom + ")")
    .call(d3.axisBottom(x).tickValues(xTickDates.map(parseDay)).tickFormat(d3.timeFormat("%Y-%m")).tickSize(3).tickPadding(p.xpad || 6));
  var ya = g.append("g").attr("transform", "translate(" + p.left + ",0)")
    .call(d3.axisLeft(y).tickValues(p.yTicks).tickFormat(d3.format(p.fmt)).tickSize(3).tickPadding(3));
  [xa, ya].forEach(function(a) {
    a.select(".domain").remove();
    a.attr("font-family", "Liberation Sans, Arial, sans-serif").attr("font-size", 10.5);
    a.selectAll("line").attr("stroke", "#444");
    a.selectAll("text").attr("fill", "#4d4d4d");
  });

  g.append("text")
    .attr("transform", "translate(" + p.titleX + "," + ((p.top + p.bottom) / 2) + ") rotate(-90)")
    .attr("text-anchor", "middle").attr("dy", "0.35em")
    .attr("font-size", 12).attr("fill", "#1e1e1e")
    .text(p.title);

  g.append("text").attr("x", p.lx).attr("y", p.ly)
    .attr("font-size", 26).attr("fill", "#3c3c3c").text(p.site);

  // legend
  var cy = (p.top + p.bottom) / 2 + p.lshift;
  var keys = p.series ? p.names : ["depth"];
  var cols = p.series ? p.colors : ["#595959"];
  var sp = p.lsp || 0;
  keys.forEach(function(k, i) {
    var yy = cy + (i - (keys.length - 1) / 2) * sp;
    g.append("line").attr("x1", 818).attr("x2", 828).attr("y1", yy).attr("y2", yy)
      .attr("stroke", cols[i]).attr("stroke-width", 1.3).attr("opacity", p.series ? p.la : 1);
    g.append("text").attr("x", 835).attr("y", yy).attr("dy", "0.35em")
      .attr("font-size", 10.5).attr("fill", "#222").text(k);
  });
});

</script>
</body>
</html>
